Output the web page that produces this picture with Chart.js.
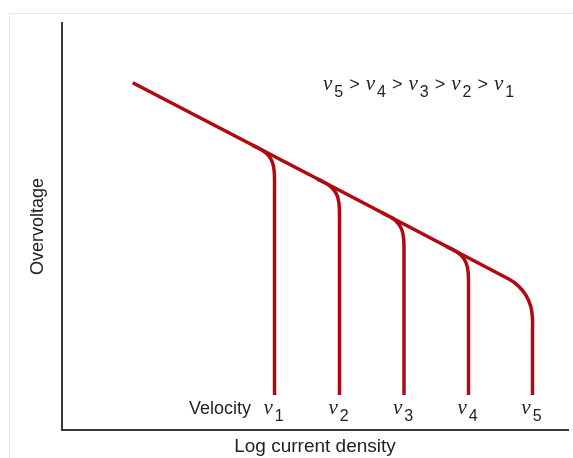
<!DOCTYPE html>
<html>
<head>
<meta charset="utf-8">
<script src="https://cdn.jsdelivr.net/npm/chart.js@4.4.0/dist/chart.umd.min.js"></script>
<style>
  body { margin: 0; background: #fff; }
  #wrap { position: relative; width: 573px; height: 458px; }
  #frame { position: absolute; left: 9px; top: 13px; right: 0; bottom: 0;
           border-left: 1px solid #e6e6e6; border-top: 1px solid #e6e6e6; }
  canvas { position: absolute; left: 0; top: 0; }
</style>
</head>
<body>
<div id="wrap"><div id="frame"></div><canvas id="chart" width="573" height="458"></canvas></div>
<script>
// velocity labels and where each branch drops off the Tafel line
const velocities = ['1', '2', '3', '4', '5']
const branchX = [4.200, 5.484, 6.759, 8.034, 9.298]

// Tafel line with the v5 limiting branch at its end
const mainLine = [[1.397, 8.533], [8.820, 3.715], [9.018, 3.541], [9.170, 3.307], [9.265, 3.032],
    [9.298, 2.735], [9.298, 2.457], [9.298, 0.860]]
// limiting-current branches v1..v4
const branchV1 = [[3.765, 6.998], [3.972, 6.862], [4.091, 6.727], [4.160, 6.568], [4.192, 6.371],
    [4.200, 6.125], [4.200, 5.880], [4.200, 0.860]]
const branchV2 = [[5.049, 6.165], [5.257, 6.029], [5.375, 5.894], [5.445, 5.735], [5.476, 5.538],
    [5.484, 5.292], [5.484, 5.047], [5.484, 0.860]]
const branchV3 = [[6.324, 5.337], [6.532, 5.201], [6.650, 5.066], [6.719, 4.907], [6.751, 4.710],
    [6.759, 4.464], [6.759, 4.219], [6.759, 0.860]]
const branchV4 = [[7.599, 4.509], [7.806, 4.373], [7.925, 4.238], [7.994, 4.079], [8.026, 3.882],
    [8.034, 3.636], [8.034, 3.391], [8.034, 0.860]]

const red = '#b00a10'
const ink = '#222'

const toPts = arr => arr.map(p => ({ x: p[0], y: p[1] }))
const curve = (arr) => ({
    data: toPts(arr),
    showLine: true,
    borderColor: red,
    borderWidth: 3.5,
    pointRadius: 0,
    tension: 0.4,
    fill: false
})

const vFont = 'italic 21px "Liberation Serif", "DejaVu Serif", serif'
const subFont = '16px "Liberation Sans", Arial, sans-serif'
const sansFont = '18px "Liberation Sans", Arial, sans-serif'

// width of a v with its subscript
const vWidth = (ctx, d) => {
    ctx.font = vFont
    const w1 = ctx.measureText('v').width
    ctx.font = subFont
    return w1 + 2 + ctx.measureText(d).width
}

const drawV = (ctx, x, y, d) => {
    ctx.font = vFont
    ctx.fillText('v', x, y)
    const w1 = ctx.measureText('v').width
    ctx.font = subFont
    ctx.fillText(d, x + w1 + 2, y + 6.5)
    return x + w1 + 2 + ctx.measureText(d).width
}

const labels = {
    id: 'labels',
    afterDraw(chart) {
        const ctx = chart.ctx
        const xs = chart.scales.x
        ctx.save()
        ctx.fillStyle = ink
        ctx.textBaseline = 'alphabetic'
        ctx.textAlign = 'left'

        // velocity labels under each branch
        velocities.forEach((d, i) => {
            const px = xs.getPixelForValue(branchX[i])
            drawV(ctx, px - vWidth(ctx, d) / 2 - 1, 414, d)
        })
        ctx.font = sansFont
        ctx.textAlign = 'right'
        ctx.fillText('Velocity', 251, 414)
        ctx.textAlign = 'left'

        // ordering note
        let x = 323
        const order = velocities.slice().reverse()
        order.forEach((d, i) => {
            x = drawV(ctx, x, 90, d)
            if (i < order.length - 1) {
                ctx.font = sansFont
                ctx.fillText(' > ', x + 1, 90)
                x += ctx.measureText(' > ').width + 2
            }
        })
        ctx.restore()
    }
}

new Chart(document.getElementById('chart'), {
    type: 'scatter',
    data: {
        datasets: [curve(mainLine), curve(branchV1), curve(branchV2), curve(branchV3), curve(branchV4)]
    },
    options: {
        responsive: false,
        animation: false,
        devicePixelRatio: 1,
        layout: { padding: { top: 23, right: 5, left: 0, bottom: 0 } },
        plugins: { legend: { display: false }, tooltip: { enabled: false } },
        scales: {
            x: {
                type: 'linear', min: 0, max: 10,
                ticks: { display: false },
                grid: { display: false },
                border: { display: true, color: '#3a3a3a', width: 2 },
                title: { display: true, text: 'Log current density', color: ink,
                         font: { size: 19, family: '"Liberation Sans", Arial, sans-serif' },
                         padding: { top: 0, bottom: 0 } },
                afterFit: s => { s.height = 28 }
            },
            y: {
                type: 'linear', min: 0, max: 10,
                ticks: { display: false },
                grid: { display: false },
                border: { display: true, color: '#3a3a3a', width: 2 },
                title: { display: true, text: 'Overvoltage', color: ink,
                         font: { size: 18, family: '"Liberation Sans", Arial, sans-serif' },
                         padding: { top: 27, bottom: 0 } },
                afterFit: s => { s.width = 62 }
            }
        }
    },
    plugins: [labels]
})
</script>
</body>
</html>
